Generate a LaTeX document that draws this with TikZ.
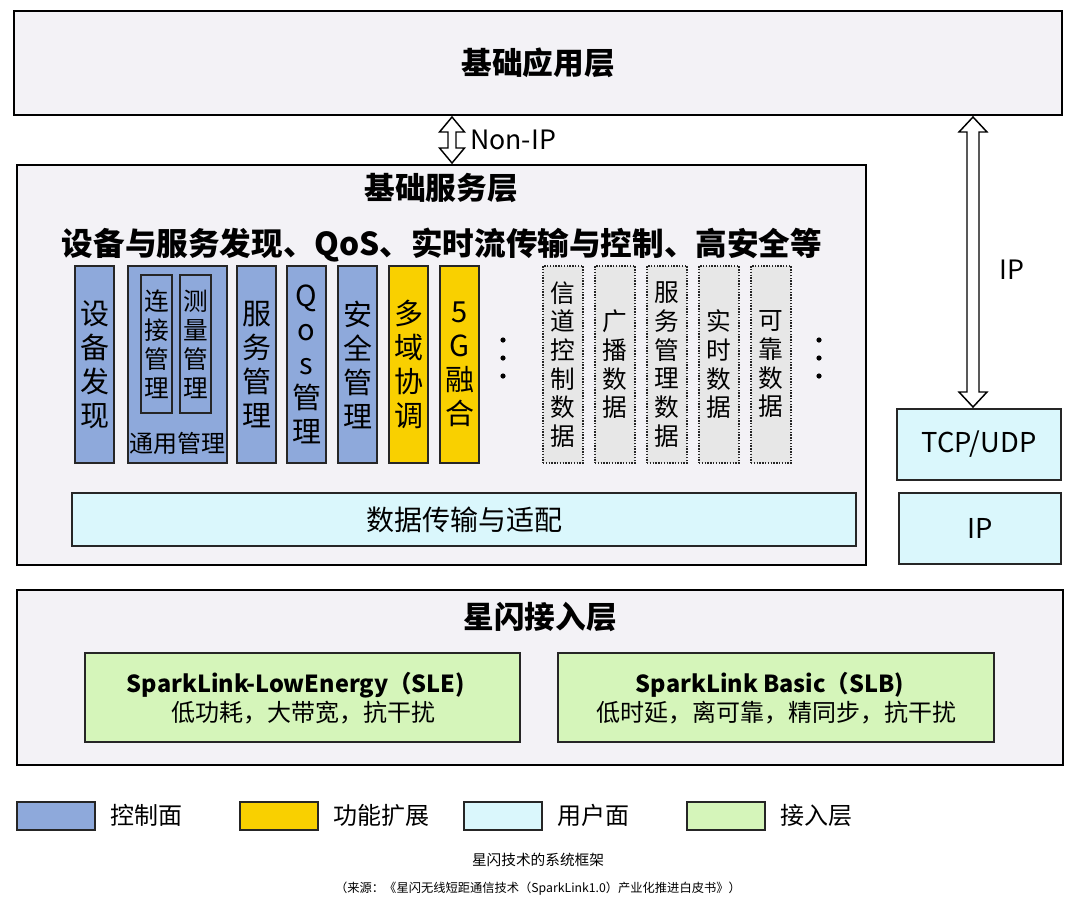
\documentclass[tikz,border=0pt]{standalone}
\usepackage{fontspec}
\setmainfont{Noto Sans CJK SC}
\usetikzlibrary{calc}
\definecolor{ctrl}{HTML}{8EA9DB}
\definecolor{func}{HTML}{F9D000}
\definecolor{user}{HTML}{DAF7FC}
\definecolor{accg}{HTML}{D5F5BA}
\definecolor{layerbg}{HTML}{F3F2F6}
\definecolor{graybox}{HTML}{E7E7E7}
\newcommand\fz[2]{\fontsize{#1}{#2}\selectfont}
\begin{document}
\begin{tikzpicture}[x=0.75pt,y=-0.75pt,
  sz/.style 2 args={minimum width=#1*0.75pt, minimum height=#2*0.75pt},
  layer/.style={draw=black, line width=1.5pt, fill=layerbg, rectangle, inner sep=0pt},
  ttl/.style={font=\fz{23}{27}\bfseries, inner sep=0pt},
  colbox/.style={draw=black!85, line width=1.1pt, rectangle, inner sep=0pt, align=center, font=\fz{21.75}{25.5}},
  ctrlbox/.style={colbox, fill=ctrl},
  funcbox/.style={colbox, fill=func},
  smallbox/.style={colbox, fill=ctrl, font=\fz{18.5}{21.75}},
  databox/.style={draw=black!85, line width=1.1pt, densely dotted, fill=graybox, rectangle, inner sep=0pt, align=center, font=\fz{18.5}{21.5}},
  userbox/.style={draw=black!85, line width=1.1pt, fill=user, rectangle, inner sep=0pt, align=center},
  accbox/.style={draw=black!85, line width=1.1pt, fill=accg, rectangle, inner sep=0pt, align=center},
  dblarrow/.style={draw=black, line width=1.1pt, fill=white, line join=miter},
  legbox/.style={draw=black!85, line width=1.1pt, rectangle, inner sep=0pt, minimum width=78*0.75pt, minimum height=28*0.75pt},
  leglbl/.style={anchor=west, inner sep=0pt, font=\fz{18}{22}},
  vdot/.style={fill=black, draw=none}
]
\useasboundingbox (0,0) rectangle (1075,901);
\fill[white] (0,0) rectangle (1075,901);

% layers
\node[layer, sz={1048}{104}, font=\fz{23}{27}\bfseries] (app) at (538,63) {基础应用层};
\node[layer, sz={849}{400}] (svc) at (441.5,365) {};
\node[layer, sz={1046}{175}] (acc) at (540,677.5) {};

\node[ttl] (svct) at (441,188) {基础服务层};
\node[inner sep=0pt, font=\fz{23.7}{28}\bfseries] (svcsub) at (442,245) {设备与服务发现、QoS、实时流传输与控制、高安全等};

% control plane columns
\node[ctrlbox, sz={39}{197}] (sbfx) at (94.5,364.5) {设\\备\\发\\现};
\node[ctrlbox, sz={99}{197}] (tygl) at (177.5,364.5) {};
\node[smallbox, sz={31}{138}] (ljgl) at (156.5,344) {连\\接\\管\\理};
\node[smallbox, sz={31}{138}] (clgl) at (195.5,344) {测\\量\\管\\理};
\node[inner sep=0pt, font=\fz{18}{22}] (tyglt) at (177.5,443) {通用管理};
\node[ctrlbox, sz={39}{197}] (fwgl) at (256.5,364.5) {服\\务\\管\\理};
\node[ctrlbox, sz={39}{197}] (qos) at (306.5,364.5) {Q\\o\\s\\管\\理};
\node[ctrlbox, sz={39}{197}] (aqgl) at (357.5,364.5) {安\\全\\管\\理};
\node[funcbox, sz={39}{197}] (dyxt) at (408.5,364.5) {多\\域\\协\\调};
\node[funcbox, sz={39}{197}] (g5) at (459.5,364.5) {5\\G\\融\\合};

\foreach \yy in {340,358,376} \fill[vdot] (503,\yy) circle (2.6);

% data columns
\node[databox, sz={40}{197}] (xd) at (563,364.5) {信\\道\\控\\制\\数\\据};
\node[databox, sz={40}{197}] (gb) at (615,364.5) {广\\播\\数\\据};
\node[databox, sz={40}{197}] (fwsj) at (667,364.5) {服\\务\\管\\理\\数\\据};
\node[databox, sz={40}{197}] (ss) at (719,364.5) {实\\时\\数\\据};
\node[databox, sz={40}{197}] (kk) at (771,364.5) {可\\靠\\数\\据};

\foreach \yy in {340,358,376} \fill[vdot] (819,\yy) circle (2.6);

\node[userbox, sz={784}{53}, font=\fz{21}{25}] (sjcs) at (464,519.5) {数据传输与适配};

% right stack
\node[userbox, sz={164}{71}, font=\fz{20.5}{24}] (tcp) at (979,444.5) {TCP/UDP};
\node[userbox, sz={162}{71}, font=\fz{20.5}{24}] (ipb) at (980,528.5) {IP};

% access layer
\node[ttl] (acct) at (540,617) {星闪接入层};
\node[accbox, sz={435}{89}] (sle) at (302.5,697.5) {};
\node[accbox, sz={436}{89}] (slb) at (776,697.5) {};
\node[inner sep=0pt, font=\fz{17.6}{22}\bfseries] (slet) at (296,685) {SparkLink-LowEnergy（SLE)};
\node[inner sep=0pt, font=\fz{18}{22}] (sled) at (303,713) {低功耗，大带宽，抗干扰};
\node[inner sep=0pt, font=\fz{17.6}{22}\bfseries] (slbt) at (770,685) {SparkLink Basic（SLB)};
\node[inner sep=0pt, font=\fz{18}{22}] (slbd) at (776,713) {低时延，离可靠，精同步，抗干扰};

% arrows
\coordinate (nA) at (452,117);
\coordinate (nB) at (452,163);
\draw[dblarrow] (nA) -- ($(nA)+(12.5,15)$) -- ($(nA)+(4,15)$) -- ($(nB)+(4,-15)$) -- ($(nB)+(12.5,-15)$) -- (nB)
  -- ($(nB)+(-12.5,-15)$) -- ($(nB)+(-4,-15)$) -- ($(nA)+(-4,15)$) -- ($(nA)+(-12.5,15)$) -- cycle;
\node[anchor=west, inner sep=0pt, font=\fz{20}{24}] (nonip) at (470,140) {Non-IP};

\coordinate (iA) at (973,117);
\coordinate (iB) at (973,407);
\draw[dblarrow] (iA) -- ($(iA)+(14,15)$) -- ($(iA)+(6,15)$) -- ($(iB)+(6,-15)$) -- ($(iB)+(14,-15)$) -- (iB)
  -- ($(iB)+(-14,-15)$) -- ($(iB)+(-6,-15)$) -- ($(iA)+(-6,15)$) -- ($(iA)+(-14,15)$) -- cycle;
\node[inner sep=0pt, font=\fz{20}{24}] (iplbl) at (1012,270) {IP};

% legend
\node[legbox, fill=ctrl] (lg1) at (56,816) {};
\node[leglbl] (lg1t) at (110,815) {控制面};
\node[legbox, fill=func] (lg2) at (279,816) {};
\node[leglbl] (lg2t) at (333,815) {功能扩展};
\node[legbox, fill=user] (lg3) at (503,816) {};
\node[leglbl] (lg3t) at (557,815) {用户面};
\node[legbox, fill=accg] (lg4) at (726,816) {};
\node[leglbl] (lg4t) at (780,815) {接入层};

% caption
\node[inner sep=0pt, font=\fz{11}{13}] (cap) at (538,860) {星闪技术的系统框架};
\node[inner sep=0pt, font=\fz{9.2}{11}] (src) at (538,889) {（来源：《星闪无线短距通信技术（SparkLink1.0）产业化推进白皮书》）};
\end{tikzpicture}
\end{document}
